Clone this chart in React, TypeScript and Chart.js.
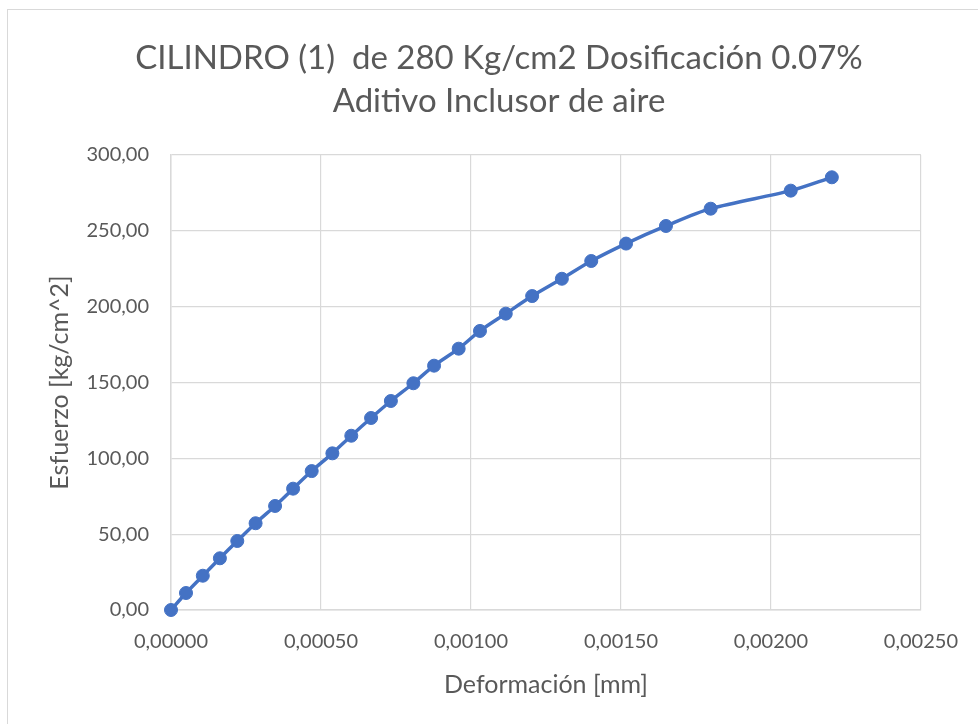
import React, { useEffect, useRef } from "react";
import { Chart, registerables } from "chart.js";

Chart.register(...registerables);

const TITLE_LINES = ["CILINDRO (1)  de 280 Kg/cm2 Dosificación 0.07%", "Aditivo Inclusor de aire"];
const X_TITLE = "Deformación [mm]";
const Y_TITLE = "Esfuerzo [kg/cm^2]";

const deformation = [
  0, 0.00005, 0.000106, 0.000163, 0.000221, 0.000282, 0.000347, 0.000407, 0.000469,
  0.000538, 0.000601, 0.000667, 0.000733, 0.000808, 0.000877, 0.000959, 0.00103,
  0.001116, 0.001204, 0.001303, 0.001401, 0.001517, 0.00165, 0.001799, 0.002066, 0.002203,
];
const stress = [
  0, 11.2, 22.6, 34.1, 45.5, 57.2, 68.6, 80.0, 91.6, 103.3, 114.9, 126.6, 137.8, 149.5,
  161.1, 172.3, 184.0, 195.4, 207.0, 218.4, 230.1, 241.6, 253.2, 264.6, 276.5, 285.3,
];

const X_MIN = 0;
const X_MAX = 0.0025;
const X_STEP = 0.0005;
const Y_MIN = 0;
const Y_MAX = 300;
const Y_STEP = 50;

const FONT = "Lato, 'Open Sans', sans-serif";
const TEXT = "#595959";
const GRID = "#d9d9d9";
const BLUE = "#4472C4";

const titlePlugin = {
  id: "twoLineTitle",
  afterDraw(chart: any) {
    const ctx = chart.ctx;
    ctx.save();
    ctx.fillStyle = TEXT;
    ctx.font = `normal 33px ${FONT}`;
    ctx.textAlign = "center";
    ctx.textBaseline = "middle";
    const cx = 499;
    ctx.fillText(TITLE_LINES[0], cx, 58);
    ctx.fillText(TITLE_LINES[1], cx, 101);
    ctx.restore();
  },
};

export default function App() {
  const ref = useRef<HTMLCanvasElement | null>(null);

  useEffect(() => {
    if (!ref.current) return;
    const points = deformation.map((x, i) => ({ x, y: stress[i] }));
    const chart = new Chart(ref.current, {
      type: "scatter",
      data: {
        datasets: [
          {
            data: points,
            showLine: true,
            borderColor: BLUE,
            backgroundColor: BLUE,
            borderWidth: 3.5,
            pointRadius: 6.5,
            pointBorderWidth: 1,
            pointHoverRadius: 6.5,
            tension: 0.3,
            clip: false,
          } as any,
        ],
      },
      options: {
        animation: false,
        responsive: false,
        layout: { padding: { left: 20, right: 57, top: 155, bottom: 20 } },
        plugins: {
          legend: { display: false },
          tooltip: { enabled: false },
          title: { display: false },
        },
        scales: {
          x: {
            type: "linear",
            min: X_MIN,
            max: X_MAX,
            border: { color: GRID, width: 1.5 },
            grid: { color: GRID, lineWidth: 1.2, drawTicks: false },
            ticks: {
              stepSize: X_STEP,
              color: TEXT,
              padding: 20,
              font: { family: FONT, size: 20 },
              callback: (v: any) => Number(v).toFixed(5).replace(".", ","),
            },
            title: {
              display: true,
              text: X_TITLE,
              color: TEXT,
              font: { family: FONT, size: 25 },
              padding: { top: 9 },
            },
            afterFit: (s: any) => {
              s.height = 94;
            },
          },
          y: {
            type: "linear",
            min: Y_MIN,
            max: Y_MAX,
            border: { color: GRID, width: 1.5 },
            grid: { color: GRID, lineWidth: 1.2, drawTicks: false },
            ticks: {
              stepSize: Y_STEP,
              color: TEXT,
              padding: 22,
              font: { family: FONT, size: 20 },
              callback: (v: any) => Number(v).toFixed(2).replace(".", ","),
            },
            title: {
              display: true,
              text: Y_TITLE,
              color: TEXT,
              font: { family: FONT, size: 25 },
              padding: { top: 25, bottom: 0 },
            },
            afterFit: (s: any) => {
              s.width = 151;
            },
          },
        },
      },
      plugins: [titlePlugin],
    });
    return () => chart.destroy();
  }, []);

  return (
    <div style={{ position: "fixed", left: 0, top: 0, width: 978, height: 724, overflow: "hidden", background: "#fff" }}>
      <div
        style={{
          position: "absolute",
          left: 7,
          top: 9,
          width: 1200,
          height: 1000,
          border: "1px solid #d9d9d9",
          boxSizing: "border-box",
        }}
      />
      <canvas ref={ref} width={978} height={724} style={{ position: "absolute", left: 0, top: 0 }} />
    </div>
  );
}
